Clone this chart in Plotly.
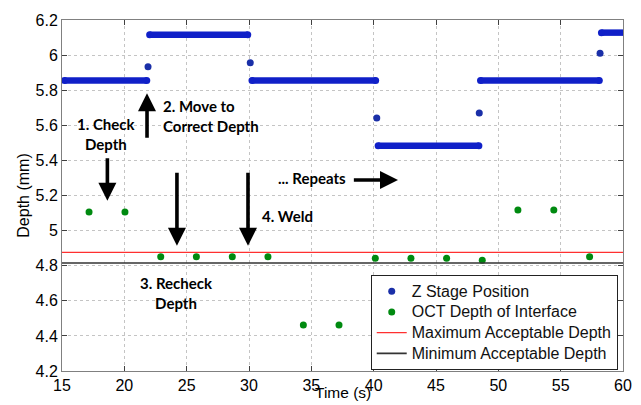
import plotly.graph_objects as go

# ---- data ----
# Z stage position: constant-level plateaus (start time, end time, depth)
seg_start = [15.2, 22.03, 30.24, 40.36, 48.57, 58.27]
seg_end = [21.8, 29.9, 40.16, 48.44, 58.1, 60.2]
seg_level = [5.855, 6.116, 5.855, 5.484, 5.855, 6.128]
# Z stage position: isolated transition samples
z_time = [21.9, 30.1, 40.25, 48.47, 58.16]
z_depth = [5.934, 5.957, 5.642, 5.670, 6.01]

# OCT depth of interface
oct_time = [17.17, 20.05, 22.92, 25.78, 28.66, 31.52, 34.36, 37.22,
            40.13, 42.99, 45.85, 48.71, 51.57, 54.45, 57.32]
oct_depth = [5.106, 5.106, 4.851, 4.851, 4.851, 4.851, 4.462, 4.462,
             4.842, 4.842, 4.842, 4.831, 5.117, 5.117, 4.851]

max_depth = 4.876
min_depth = 4.815
x_limits = [15, 60]

x_ticks = [15, 20, 25, 30, 35, 40, 45, 50, 55, 60]
y_ticks = [4.2, 4.4, 4.6, 4.8, 5.0, 5.2, 5.4, 5.6, 5.8, 6.0, 6.2]
y_tick_labels = ["4.2", "4.4", "4.6", "4.8", "5", "5.2", "5.4", "5.6", "5.8", "6", "6.2"]

series_names = ["Z Stage Position", "OCT Depth of Interface",
                "Maximum Acceptable Depth", "Minimum Acceptable Depth"]
x_title = "Time (s)"
y_title = "Depth (mm)"

BLUE = "#1020c8"
GREEN = "#008a10"


def legend_label(s):
    return '<span style="font-size:16px">' + s + '</span>'


fig = go.Figure()

# plateaus of the Z stage (dense samples rendered as thick runs)
for s, e, lv in zip(seg_start, seg_end, seg_level):
    fig.add_trace(go.Scatter(
        x=[s, e], y=[lv, lv], mode="lines+markers",
        line=dict(color=BLUE, width=6.5),
        marker=dict(color=BLUE, size=7),
        showlegend=False, hoverinfo="skip"))

fig.add_trace(go.Scatter(
    x=z_time, y=z_depth, mode="markers", name=legend_label(series_names[0]),
    marker=dict(color="#1a2fa8", size=7)))

fig.add_trace(go.Scatter(
    x=oct_time, y=oct_depth, mode="markers", name=legend_label(series_names[1]),
    marker=dict(color=GREEN, size=7)))

fig.add_trace(go.Scatter(
    x=x_limits, y=[max_depth, max_depth], mode="lines",
    name=legend_label(series_names[2]),
    line=dict(color="#ff3030", width=1.2)))

fig.add_trace(go.Scatter(
    x=x_limits, y=[min_depth, min_depth], mode="lines",
    name=legend_label(series_names[3]),
    line=dict(color="#333333", width=1.6)))

ann_font = dict(family="Lato", size=15, color="black", weight="bold")

# arrows: (tip x, tip y, tail x, tail y)
arrows = [
    (18.64, 5.170, 18.64, 5.421),
    (21.82, 5.782, 21.82, 5.520),
    (24.22, 4.914, 24.22, 5.338),
    (29.92, 4.914, 29.92, 5.338),
    (41.95, 5.288, 38.29, 5.288),
]
annotations = []
for tx, ty, ax_, ay_ in arrows:
    annotations.append(dict(
        x=tx, y=ty, ax=ax_, ay=ay_, xref="x", yref="y", axref="x", ayref="y",
        text="", showarrow=True, arrowhead=2, arrowsize=1.0, arrowwidth=3.6,
        arrowcolor="black", standoff=0, startstandoff=0))

texts = [
    ("1. Check<br>Depth", 18.56, 5.552, "center"),
    ("2. Move to<br>Correct Depth", 22.97, 5.654, "left"),
    ("3. Recheck<br>Depth", 24.22, 4.643, "center"),
    ("4. Weld", 30.85, 5.085, "left"),
    ("... Repeats", 32.19, 5.298, "left"),
]
for t, x, y, al in texts:
    annotations.append(dict(
        x=x, y=y, xref="x", yref="y", text=t, showarrow=False,
        xanchor=al, yanchor="middle", align=al, font=ann_font))

# x-axis title placed just below the tick labels (as in the reference)
annotations.append(dict(
    x=0.5, y=-0.0335, xref="paper", yref="paper", text=x_title,
    showarrow=False, xanchor="center", yanchor="top", borderpad=0,
    font=dict(family="Liberation Sans", size=15.5, color="black")))

axis_common = dict(
    showline=True, linecolor="#808080", linewidth=1, mirror="allticks",
    ticks="inside", ticklen=5, tickcolor="#404040",
    showgrid=True, gridcolor="#c4c4c4", griddash="dot", gridwidth=1,
    zeroline=False, automargin=False,
    tickfont=dict(family="Liberation Sans", size=16, color="black"),
)

fig.update_layout(
    width=641, height=405,
    margin=dict(l=62, r=18, t=20, b=34),
    paper_bgcolor="white", plot_bgcolor="white",
    font=dict(family="Liberation Sans", size=16, color="black"),
    annotations=annotations,
    legend=dict(
        x=0.9906, y=0.003, xanchor="right", yanchor="bottom",
        bgcolor="white", bordercolor="#222222", borderwidth=1,
        font=dict(family="Liberation Sans", size=13.6, color="#111111"),
        tracegroupgap=0, itemwidth=30),
    xaxis=dict(range=x_limits, tickvals=x_ticks, **axis_common),
    yaxis=dict(range=[4.2, 6.2], tickvals=y_ticks, ticktext=y_tick_labels,
               title=dict(text=y_title, standoff=1,
                          font=dict(family="Liberation Sans", size=16)),
               **axis_common),
    showlegend=True,
)

fig.write_html("out.html", config={"displayModeBar": False},
               post_script="document.body.style.margin='0px';")
